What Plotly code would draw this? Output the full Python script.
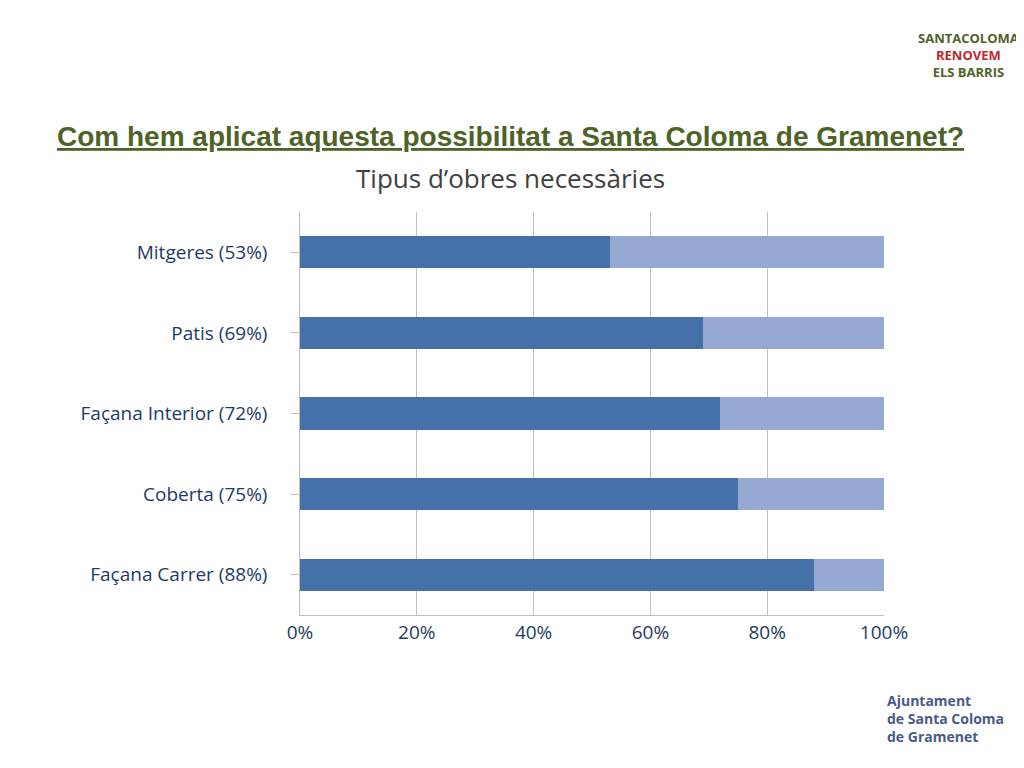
import plotly.graph_objs as go

categories = ['Façana Carrer (88%)', 'Coberta (75%)', 'Façana Interior (72%)',
              'Patis (69%)', 'Mitgeres (53%)']
yes_vals = [88, 75, 72, 69, 53]
no_vals = [100 - v for v in yes_vals]

dark = '#4571A8'
light = '#95A9D3'

data = [
    go.Bar(y=categories, x=yes_vals, orientation='h', marker=dict(color=dark, line=dict(width=0)),
           name='Sí'),
    go.Bar(y=categories, x=no_vals, orientation='h', marker=dict(color=light, line=dict(width=0)),
           name='No'),
]

# plot area in pixels: x 300..884, y 212..615 (page has an 8px body margin)
def px(x):
    return (x - 300) / 584.0

def py(y):
    return (615 - y) / 403.0

layout = go.Layout(
    barmode='stack', bargap=0.6, showlegend=False,
    width=1024, height=768,
    margin=dict(l=292, r=148, t=204, b=161, autoexpand=False),
    paper_bgcolor='white', plot_bgcolor='white',
    font=dict(family='Open Sans, Liberation Sans, sans-serif', color='#1F3B63'),
    xaxis=dict(range=[0, 100], tickvals=[0, 20, 40, 60, 80, 100],
               ticktext=['0%', '20%', '40%', '60%', '80%', '100%'],
               showgrid=True, gridcolor='#BFBFBF', zeroline=False,
               showline=True, linecolor='#BFBFBF', tickfont=dict(size=19)),
    yaxis=dict(showline=True, linecolor='#BFBFBF', ticks='outside', ticklen=8,
               tickcolor='#BFBFBF', tickfont=dict(size=19), ticksuffix='    '),
    annotations=[
        dict(text='<b><u>Com hem aplicat aquesta possibilitat a Santa Coloma de Gramenet?</u></b>',
             x=px(510), y=py(137), xref='paper', yref='paper', showarrow=False,
             xanchor='center', yanchor='middle',
             font=dict(size=28, color='#4F6228', family='Liberation Sans, sans-serif')),
        dict(text='Tipus d’obres necessàries', x=px(510), y=py(178), xref='paper', yref='paper',
             xanchor='center', yanchor='middle',
             showarrow=False, font=dict(size=26, color='#404040')),
        dict(text='<b>SANTACOLOMA</b><br><b><span style="color:#C0272D">RENOVEM</span></b><br><b>ELS BARRIS</b>',
             x=px(968), y=py(55), xref='paper', yref='paper', showarrow=False,
             xanchor='center', yanchor='middle',
             font=dict(size=13, color='#4F6228')),
        dict(text='<b>Ajuntament<br>de Santa Coloma<br>de Gramenet</b>', align='left',
             x=px(885), y=py(718), xref='paper', yref='paper', showarrow=False,
             xanchor='left', yanchor='middle',
             font=dict(size=14, color='#4A5A8A')),
    ],
)

fig = go.Figure(data=data, layout=layout)
fig.write_html('out.html')
